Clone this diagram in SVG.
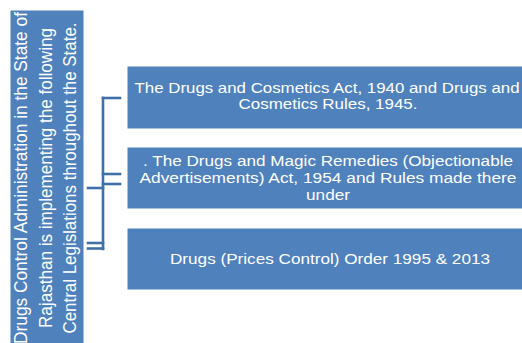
<svg xmlns="http://www.w3.org/2000/svg" width="522" height="343" viewBox="0 0 522 343">
<style>
.box{fill:#4F81BD;stroke:#ffffff;stroke-width:1}
.t{font-family:"Liberation Sans",Arial,sans-serif;fill:#ffffff;text-anchor:middle}
.rt{font-size:15.5px}
.lt{font-size:18.5px}
.c{stroke:#4170A8;stroke-width:2.6;fill:none;stroke-linecap:square}
</style>
<rect width="522" height="343" fill="#ffffff"/>
<g id="root">
<rect class="box" x="10" y="10" width="74" height="345"/>
<text class="t lt" transform="translate(27,178) rotate(-90)" textLength="332" lengthAdjust="spacingAndGlyphs">Drugs Control Administration in the State of</text>
<text class="t lt" transform="translate(52,178) rotate(-90)" textLength="300" lengthAdjust="spacingAndGlyphs">Rajasthan is implementing the following</text>
<text class="t lt" transform="translate(76,178) rotate(-90)" textLength="311" lengthAdjust="spacingAndGlyphs">Central Legislations throughout the State.</text>
</g>
<g id="connectors">
<path class="c" d="M103,98 V249"/>
<path class="c" d="M103,98 H120"/>
<path class="c" d="M103,174 H120"/>
<path class="c" d="M103,184 H120"/>
<path class="c" d="M88,188 H103"/>
<path class="c" d="M88,243 H103"/>
<path class="c" d="M88,248.5 H103"/>
</g>
<g id="n1">
<rect class="box" x="127" y="66" width="400" height="63"/>
<text class="t rt" x="327" y="93" textLength="385" lengthAdjust="spacingAndGlyphs">The Drugs and Cosmetics Act, 1940 and Drugs and</text>
<text class="t rt" x="328" y="109" textLength="179" lengthAdjust="spacingAndGlyphs">Cosmetics Rules, 1945.</text>
</g>
<g id="n2">
<rect class="box" x="127" y="147" width="400" height="62"/>
<text class="t rt" x="328" y="166" textLength="370" lengthAdjust="spacingAndGlyphs">. The Drugs and Magic Remedies (Objectionable</text>
<text class="t rt" x="328" y="183" textLength="377" lengthAdjust="spacingAndGlyphs">Advertisements) Act, 1954 and Rules made there</text>
<text class="t rt" x="328" y="200" textLength="44" lengthAdjust="spacingAndGlyphs">under</text>
</g>
<g id="n3">
<rect class="box" x="127" y="228" width="400" height="62"/>
<text class="t rt" x="330" y="264" textLength="320" lengthAdjust="spacingAndGlyphs">Drugs (Prices Control) Order 1995 &amp; 2013</text>
</g>
</svg>
